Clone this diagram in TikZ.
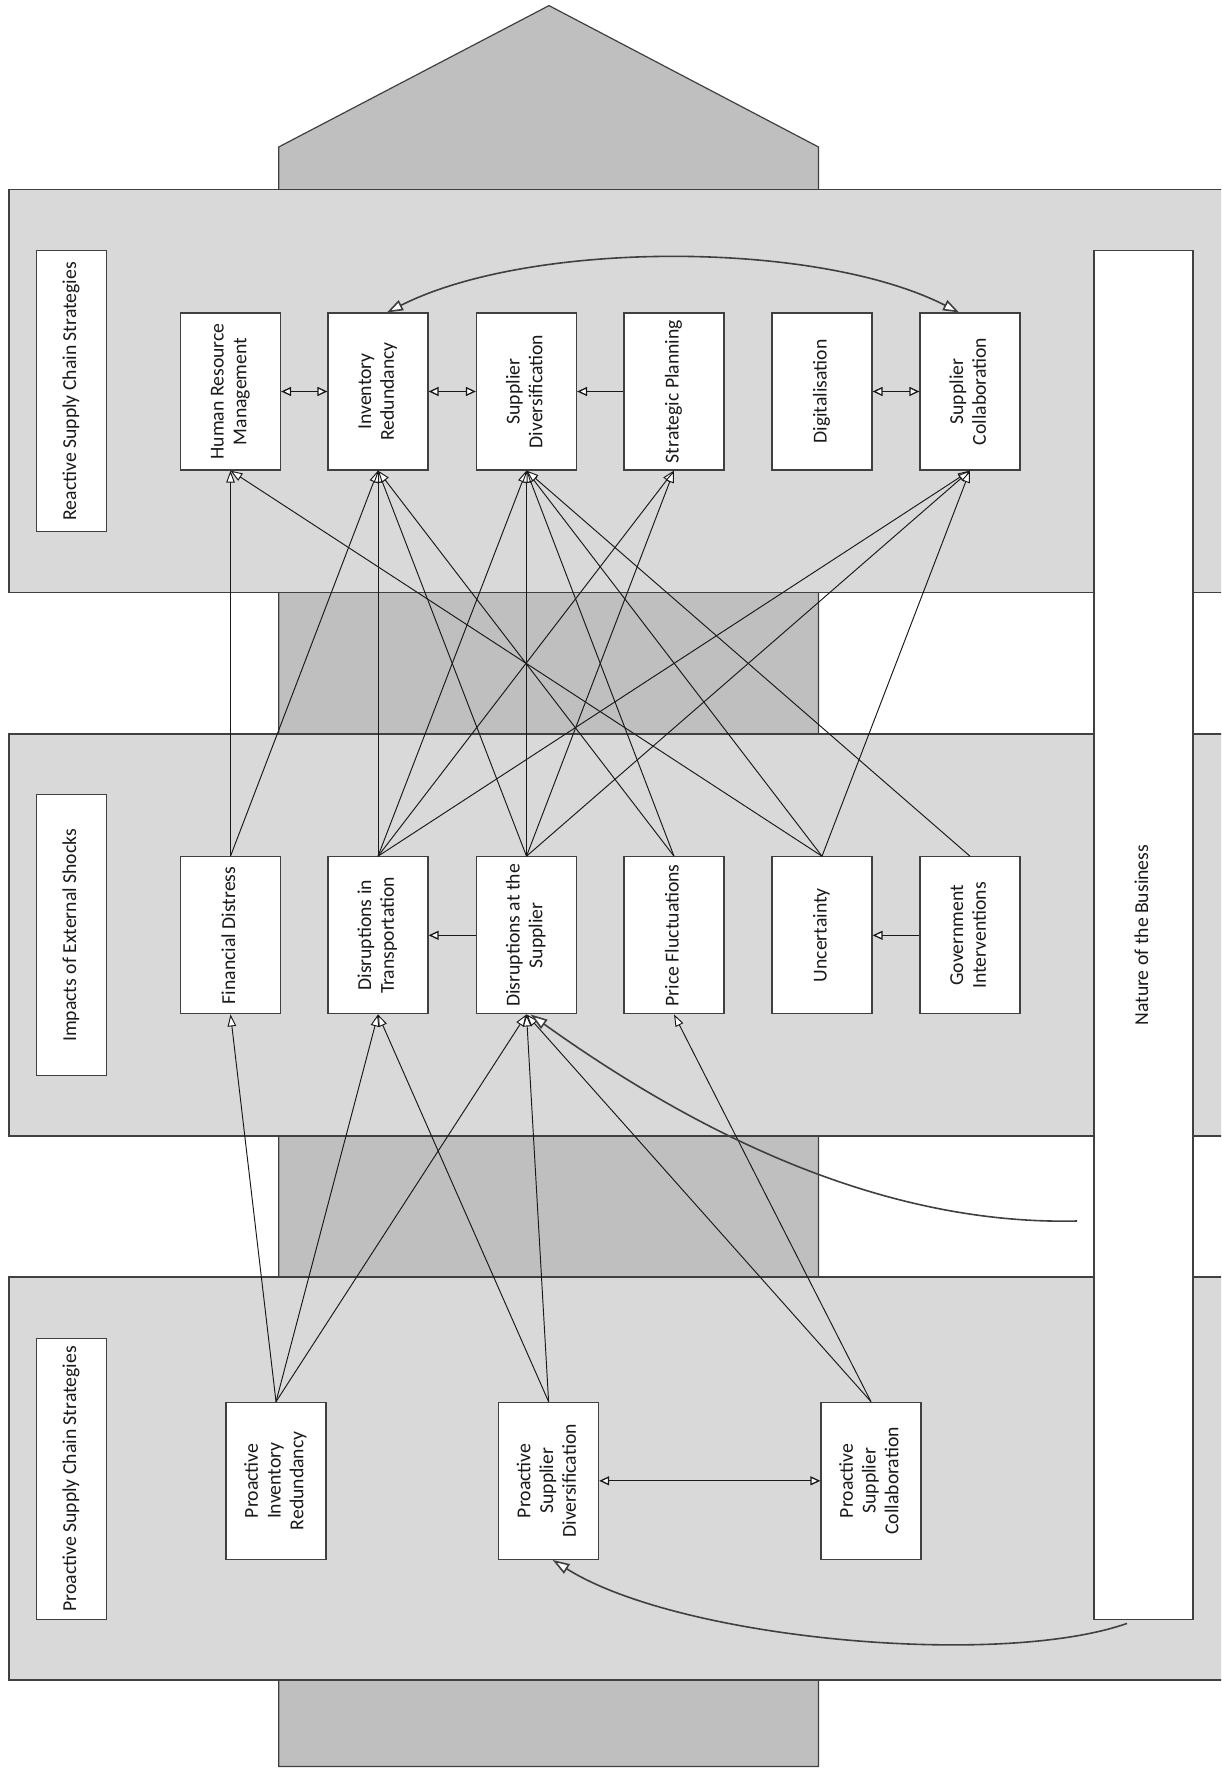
\documentclass[tikz,border=0pt]{standalone}
\usepackage{fontspec}
\setmainfont{Carlito}
\usetikzlibrary{arrows.meta,calc}
\definecolor{panelfill}{RGB}{217,217,217}
\definecolor{darkfill}{RGB}{191,191,191}
\definecolor{edgecol}{RGB}{64,64,64}
\definecolor{inkcol}{RGB}{25,25,25}
\newcommand{\rt}[1]{\rotatebox{90}{\begin{tabular}{@{}c@{}}#1\end{tabular}}}
\begin{document}
\begin{tikzpicture}[x=1pt,y=-1pt,
  box/.style={draw=edgecol,line width=1.2pt,fill=white,minimum width=100pt,minimum height=157pt,inner sep=0pt,text=inkcol,font=\fontsize{19.7}{22.8}\selectfont},
  titlebox/.style={draw=edgecol,line width=1.2pt,fill=white,minimum width=70pt,minimum height=281pt,inner sep=0pt,text=inkcol,font=\fontsize{19.7}{22.8}\selectfont},
  panel/.style={fill=panelfill,draw=edgecol,line width=1.8pt},
  conn/.style={draw=inkcol,line width=0.95pt,-{Triangle[length=12pt,width=8.5pt,fill=white]}},
  sconn/.style={draw=inkcol,line width=1.3pt,-{Triangle[length=10pt,width=9pt,fill=white]}},
  dconn/.style={draw=inkcol,line width=1.3pt,{Triangle[length=10pt,width=9pt,fill=white]}-{Triangle[length=10pt,width=9pt,fill=white]}},
  bigcurve/.style={draw=edgecol,line width=1.6pt,-{Triangle[length=17pt,width=11pt,fill=white]}},
  dbigcurve/.style={draw=edgecol,line width=1.6pt,{Triangle[length=16pt,width=11pt,fill=white]}-{Triangle[length=16pt,width=11pt,fill=white]}}
]
\useasboundingbox (0,0) rectangle (1221,1769);
\clip (0,0) rectangle (1221,1769);
\fill[white] (0,0) rectangle (1221,1769);
% background arrow
\draw[fill=darkfill,draw=edgecol,line width=1.2pt] (278.7,1766.5) -- (278.7,147) -- (549,5.6) -- (818.5,147) -- (818.5,1766.5) -- cycle;
% panels
\draw[panel] (9,189.5) rectangle (1240,592.5);
\draw[panel] (9,734) rectangle (1240,1136);
\draw[panel] (9,1277) rectangle (1240,1680);
% titles
\node[titlebox] (t1) at (71.6,391.3) {\rt{Reactive Supply Chain Strategies}};
\node[titlebox] (t2) at (71.6,935.3) {\rt{Impacts of External Shocks}};
\node[titlebox] (t3) at (71.6,1478.8) {\rt{Proactive Supply Chain Strategies}};
\node[draw=edgecol,line width=1.2pt,fill=white,minimum width=99pt,minimum height=1369pt,inner sep=0pt,text=inkcol,font=\fontsize{19.7}{22.8}\selectfont] (nat) at (1143.5,935.2) {\rt{Nature of the Business}};
% top row
\node[box] (hrm) at (230.5,391.5) {\rt{Human Resource\\Management}};
\node[box] (ir)  at (378,391.5) {\rt{Inventory\\Redundancy}};
\node[box] (sd)  at (526.5,391.5) {\rt{Supplier\\Diversification}};
\node[box] (sp)  at (674,391.5) {\rt{Strategic Planning}};
\node[box] (dig) at (822,391.5) {\rt{Digitalisation}};
\node[box] (sc)  at (970,391.5) {\rt{Supplier\\Collaboration}};
% middle row
\node[box] (fd)  at (230.5,935.3) {\rt{Financial Distress}};
\node[box] (dt)  at (378,935.3) {\rt{Disruptions in\\Transportation}};
\node[box] (ds)  at (526.5,935.3) {\rt{Disruptions at the\\Supplier}};
\node[box] (pf)  at (674,935.3) {\rt{Price Fluctuations}};
\node[box] (unc) at (822,935.3) {\rt{Uncertainty}};
\node[box] (gi)  at (970,935.3) {\rt{Government\\Interventions}};
% bottom row
\node[box] (pir) at (276,1480.8) {\rt{Proactive\\Inventory\\Redundancy}};
\node[box] (psd) at (548.6,1480.8) {\rt{Proactive\\Supplier\\Diversification}};
\node[box] (psc) at (871,1480.8) {\rt{Proactive\\Supplier\\Collaboration}};
% middle -> top
\draw[conn] (fd.north) -- (hrm.south);
\draw[conn] (fd.north) -- (ir.south);
\draw[conn] (dt.north) -- (ir.south);
\draw[conn] (dt.north) -- (sd.south);
\draw[conn] (dt.north) -- (sp.south);
\draw[conn] (dt.north) -- (sc.south);
\draw[conn] (ds.north) -- (ir.south);
\draw[conn] (ds.north) -- (sd.south);
\draw[conn] (ds.north) -- (sp.south);
\draw[conn] (ds.north) -- (sc.south);
\draw[conn] (pf.north) -- (ir.south);
\draw[conn] (pf.north) -- (sd.south);
\draw[conn] (unc.north) -- (hrm.south);
\draw[conn] (unc.north) -- (sd.south);
\draw[conn] (unc.north) -- (sc.south);
\draw[conn] (gi.north) -- (sd.south);
% bottom -> middle
\draw[conn] (pir.north) -- (fd.south);
\draw[conn] (pir.north) -- (dt.south);
\draw[conn] (pir.north) -- (ds.south);
\draw[conn] (psd.north) -- (dt.south);
\draw[conn] (psd.north) -- (ds.south);
\draw[conn] (psc.north) -- (ds.south);
\draw[conn] (psc.north) -- (pf.south);
% horizontal
\draw[dconn] (hrm.east) -- (ir.west);
\draw[dconn] (ir.east) -- (sd.west);
\draw[sconn] (sp.west) -- (sd.east);
\draw[dconn] (dig.east) -- (sc.west);
\draw[sconn] (ds.west) -- (dt.east);
\draw[sconn] (gi.west) -- (unc.east);
\draw[dconn] (psd.east) -- (psc.west);
% curves
\draw[dbigcurve] ($(ir.north)+(9,0)$) .. controls (530,240) and (817,240) .. ($(sc.north)+(-11,0)$);
\coordinate (nat1) at (1077,1221);
\coordinate (nat2) at (1127,1623.4);
\draw[bigcurve] (nat1) .. controls (900,1225) and (720,1150) .. ($(ds.south)+(4,0)$);
\draw[bigcurve] (nat2) .. controls (1000,1668) and (680,1640) .. ($(psd.south)+(4,0)$);
\end{tikzpicture}
\end{document}
